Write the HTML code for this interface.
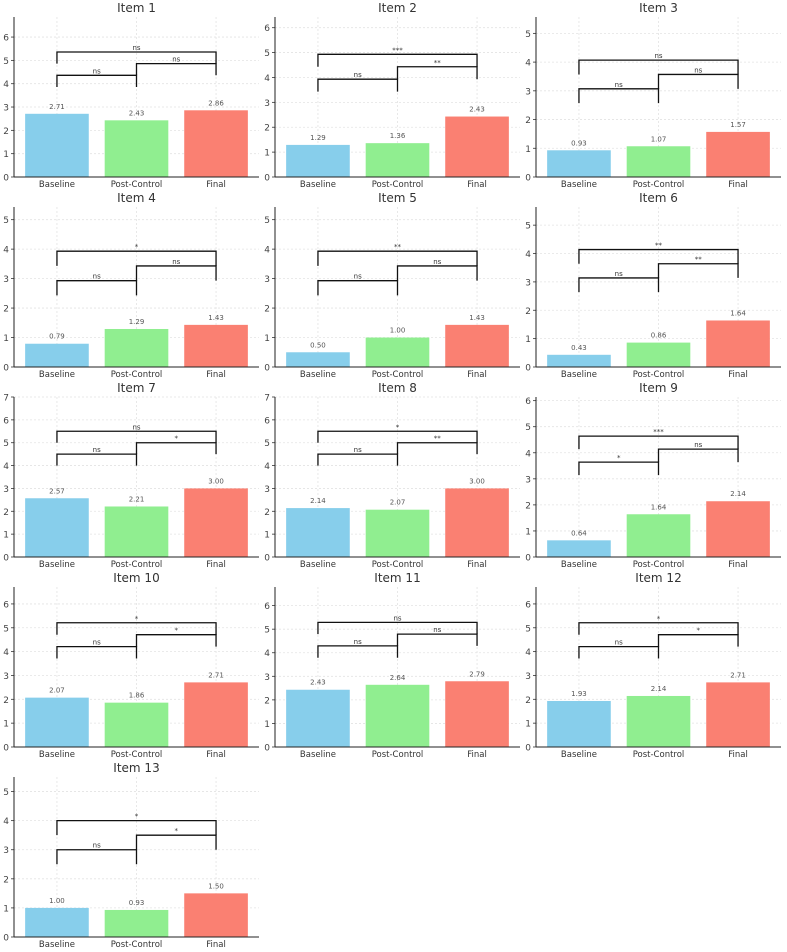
<!DOCTYPE html>
<html><head><meta charset="utf-8"><style>
body{margin:0;background:#fff;}
svg{display:block;font-family:"DejaVu Sans","Liberation Sans",sans-serif;}
</style></head><body>
<svg id="fig" width="787" height="952" viewBox="0 0 787 952" xmlns="http://www.w3.org/2000/svg"></svg>
<script>
const items = ["Item 1","Item 2","Item 3","Item 4","Item 5","Item 6","Item 7","Item 8","Item 9","Item 10","Item 11","Item 12","Item 13"];
const categories = ["Baseline","Post-Control","Final"];
const baseline = [2.71,1.29,0.93,0.79,0.50,0.43,2.57,2.14,0.64,2.07,2.43,1.93,1.00];
const postControl = [2.43,1.36,1.07,1.29,1.00,0.86,2.21,2.07,1.64,1.86,2.64,2.14,0.93];
const finalVals = [2.86,2.43,1.57,1.43,1.43,1.64,3.00,3.00,2.14,2.71,2.79,2.71,1.50];
const sigBP = ["ns","ns","ns","ns","ns","ns","ns","ns","*","ns","ns","ns","ns"];
const sigPF = ["ns","**","ns","ns","ns","**","*","**","ns","*","ns","*","*"];
const sigBF = ["ns","***","ns","*","**","**","ns","*","***","*","ns","*","*"];
const colors = ["#87CEEB","#90EE90","#FA8072"];

const NS = "http://www.w3.org/2000/svg";
const svg = document.getElementById("fig");
function mk(tag, attrs, parent){const e=document.createElementNS(NS,tag);for(const k in attrs)e.setAttribute(k,attrs[k]);(parent||svg).appendChild(e);return e;}

const colLeft=[14,275,536], axW=245, rowTop=17, axH=160, pitch=190;
items.forEach((name,i)=>{
  const col=i%3,row=Math.floor(i/3);
  const L=colLeft[col], T=rowTop+row*pitch, B=T+axH;
  const vals=[baseline[i],postControl[i],finalVals[i]];
  const mx=Math.max(...vals);
  const ymax=mx+4;
  const y=v=>B-v/ymax*axH;
  const x=c=>L+(c+0.54)/3.08*axW;
  const g=mk("g",{});
  
  
  // grid
  for(let t=0;t<=Math.floor(ymax);t++){
    const gl=mk("line",{x1:L,x2:L+axW,y1:y(t),y2:y(t),stroke:"#e3e3e3","stroke-width":0.8,"stroke-dasharray":"2,2"},g);
    
    
    const tk=mk("text",{x:L-5,y:y(t)+3.5,"font-size":9,fill:"#444","text-anchor":"end"},g);
    tk.textContent=t;
    
    
    mk("line",{x1:L-3,x2:L,y1:y(t),y2:y(t),stroke:"#333","stroke-width":0.8},g);
  }
  categories.forEach((c,k)=>{
    mk("line",{x1:x(k),x2:x(k),y1:T,y2:B,stroke:"#e3e3e3","stroke-width":0.8,"stroke-dasharray":"2,2"},g);
  });
  // bars
  vals.forEach((v,k)=>{
    const w=0.8/3.08*axW;
    const r=mk("rect",{x:x(k)-w/2,y:y(v),width:w,height:B-y(v),fill:colors[k]},g);
    
    
    const lb=mk("text",{x:x(k),y:y(v)-5,"font-size":7,fill:"#555","text-anchor":"middle"},g);
    lb.textContent=v.toFixed(2);
    
    
    const xl=mk("text",{x:x(k),y:B+10,"font-size":8.5,fill:"#333","text-anchor":"middle"},g);
    xl.textContent=categories[k];
    
    
  });
  // brackets
  const br=[[0,1,mx+1.5,sigBP[i]],[1,2,mx+2.0,sigPF[i]],[0,2,mx+2.5,sigBF[i]]];
  br.forEach(([a,b,h,s])=>{
    const p=mk("polyline",{points:`${x(a)},${y(h-0.5)} ${x(a)},${y(h)} ${x(b)},${y(h)} ${x(b)},${y(h-0.5)}`,fill:"none",stroke:"#111","stroke-width":1.3},g);
    
    
    const st=mk("text",{x:(x(a)+x(b))/2,y:y(h)-2,"font-size":7,fill:"#333","text-anchor":"middle"},g);
    st.textContent=s;
    
    
  });
  // spines
  mk("line",{x1:L,x2:L,y1:T,y2:B,stroke:"#222","stroke-width":1},g);
  mk("line",{x1:L,x2:L+axW,y1:B,y2:B,stroke:"#222","stroke-width":1},g);
  const tt=mk("text",{x:L+axW/2,y:T-5,"font-size":12,fill:"#333","text-anchor":"middle"},g);
  tt.textContent=name;
  
  
});
</script>
</body></html>
